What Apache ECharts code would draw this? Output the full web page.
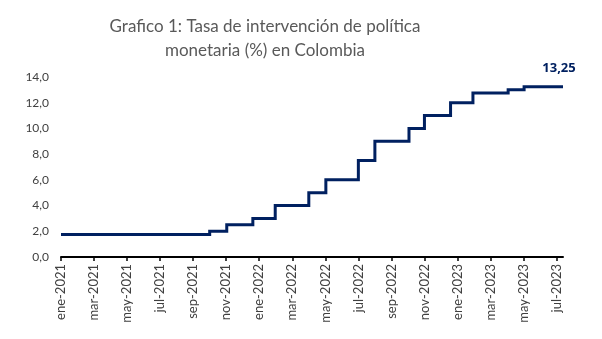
<!DOCTYPE html>
<html>
<head>
<meta charset="utf-8">
<script src="https://cdn.jsdelivr.net/npm/echarts@6/dist/echarts.min.js"></script>
<style>
  html, body { margin: 0; padding: 0; background: #ffffff; }
  #chart { width: 602px; height: 339px; }
</style>
</head>
<body>
<div id="chart"></div>
<script>
// Effective dates of each policy-rate change (yyyy-mm-dd) and the new rate (%)
const changeDates = [
  '2021-01-01', '2021-10-01', '2021-11-02', '2021-12-20', '2022-01-31',
  '2022-04-01', '2022-05-02', '2022-07-01', '2022-08-01', '2022-10-03',
  '2022-11-01', '2022-12-19', '2023-01-30', '2023-04-03', '2023-05-02',
  '2023-07-13'
];
const rates = [
  1.75, 2.00, 2.50, 3.00, 4.00,
  5.00, 6.00, 7.50, 9.00, 10.00,
  11.00, 12.00, 12.75, 13.00, 13.25,
  13.25
];
const monthNames = ['ene', 'feb', 'mar', 'abr', 'may', 'jun', 'jul', 'ago', 'sep', 'oct', 'nov', 'dic'];
const startYear = 2021;
const yTicks = [0, 2, 4, 6, 8, 10, 12, 14];

// Position on the x scale: months elapsed since January 2021 (fractional by day)
function monthIndex(iso) {
  const [y, m, d] = iso.split('-').map(Number);
  const daysInMonth = new Date(y, m, 0).getDate();
  return (y - startYear) * 12 + (m - 1) + (d - 1) / daysInMonth;
}

const points = changeDates.map((d, i) => [monthIndex(d), rates[i]]);
const lastIdx = points.length - 1;

const fmtComma = (v, digits) => v.toFixed(digits).replace('.', ',');

const chart = echarts.init(document.getElementById('chart'));
chart.setOption({
  animation: false,
  title: {
    text: 'Grafico 1: Tasa de intervención de política\nmonetaria (%) en Colombia',
    left: 260,
    textAlign: 'center',
    top: 10,
    textStyle: {
      fontFamily: 'Lato',
      fontWeight: 'normal',
      fontSize: 17,
      lineHeight: 24,
      color: '#595959'
    }
  },
  grid: { left: 61, right: 39, top: 77, bottom: 82 },
  xAxis: {
    type: 'value',
    min: 0,
    max: monthIndex(changeDates[lastIdx]),
    interval: 2,
    splitLine: { show: false },
    axisLine: { show: true, lineStyle: { color: '#000000', width: 2 } },
    axisTick: { show: true, length: 4, lineStyle: { color: '#000000', width: 1.5 } },
    axisLabel: {
      rotate: 90,
      fontFamily: 'Lato',
      fontSize: 13,
      color: '#404040',
      margin: 7,
      showMaxLabel: false,
      formatter: v => {
        if (Math.abs(v - Math.round(v)) > 1e-6) return '';
        const m = Math.round(v);
        return monthNames[m % 12] + '-' + (startYear + Math.floor(m / 12));
      }
    }
  },
  yAxis: {
    type: 'value',
    min: yTicks[0],
    max: yTicks[yTicks.length - 1],
    interval: 2,
    splitLine: { show: false },
    axisLine: { show: false },
    axisTick: { show: false },
    axisLabel: {
      fontFamily: 'Lato',
      fontSize: 12,
      color: '#404040',
      margin: 12,
      formatter: v => fmtComma(v, 1)
    }
  },
  series: [{
    type: 'line',
    step: 'end',
    showSymbol: true,
    symbol: 'none',
    data: points.map((p, i) => i === lastIdx ? {
      value: p,
      symbol: 'circle',
      symbolSize: 1,
      itemStyle: { color: 'rgba(0,0,0,0)', borderWidth: 0 },
      label: {
        show: true,
        position: 'top',
        offset: [-4, -6],
        formatter: () => fmtComma(rates[lastIdx], 2),
        fontFamily: 'Open Sans',
        fontWeight: 'bold',
        fontSize: 13,
        color: '#002060'
      }
    } : p),
    lineStyle: { color: '#002060', width: 3, cap: 'butt', join: 'miter' },
    clip: false
  }]
});
</script>
</body>
</html>
